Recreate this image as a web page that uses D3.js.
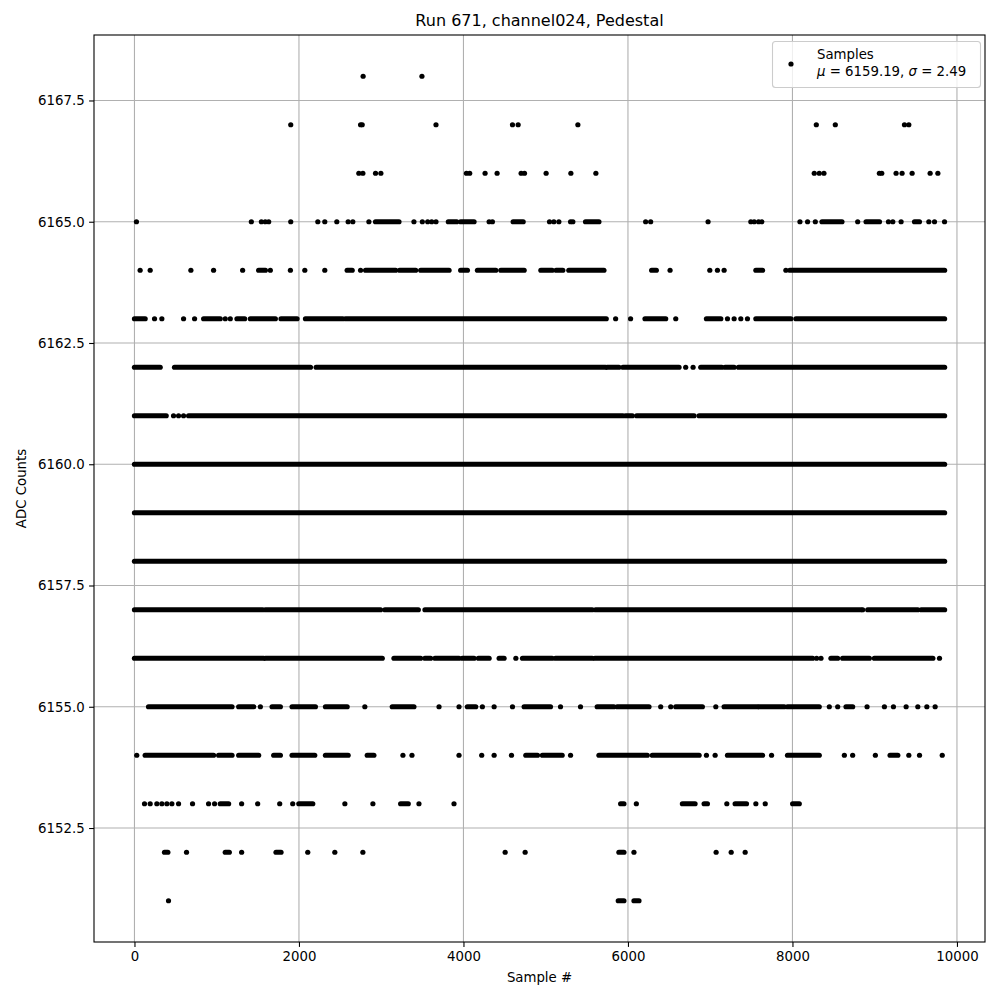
<!DOCTYPE html>
<html>
<head>
<meta charset="utf-8">
<script src="https://cdn.jsdelivr.net/npm/d3@7"></script>
<style>
    body { margin: 0; background: #fff; }
    text { font-family: 'DejaVu Sans', sans-serif; fill: #000; }
</style>
</head>
<body>
<svg id="chart" width="1000" height="1000"></svg>
<script>
// ADC levels seen in the picture, top to bottom
var levels = [6168, 6167, 6166, 6165, 6164, 6163, 6162, 6161, 6160, 6159, 6158, 6157, 6156, 6155, 6154, 6153, 6152, 6151];

// Sample numbers at each level: a number is a lone sample, [a, b] a run of samples packed together
var s6168 = [2780, 3495];
var s6167 = [1900, 2749, 2769, 3666, 4596, 4665, 5391, 8290, 8521, 9362, 9415];
var s6166 = [2728, 2777, 2931, 2996, 4036, 4076, 4263, 4409, 4701, 4742, 5005, 5306, 5610, 8265, 8326, 8383,
    9057, 9086, 9260, 9333, 9455, 9674, 9768];
var s6165 = [24, 1421, 1543, 1590, 1632, 1900, 2229, 2314, 2460, 2598, 2655, 2850, [2931, 3216], 3398, 3500, 3565,
    3614, 3666, [3816, 3918], [3966, 4129], 4312, 4352, [4604, 4726], 5046, 5099, 5160, 5302, 5330, [5484, 5647],
    6215, 6276, 6974, 7494, 7535, 7588, 7628, 8091, 8184, 8278, [8359, 8602], 8793, [8895, 9058], 9167, 9220, 9321,
    [9484, 9544], 9658, 9727, 9849];
var s6164 = [69, 191, 686, 962, 1315, [1510, 1592], 1652, 1896, 2071, 2314, [2586, 2647], 2749, [2810, 3175],
    [3224, 3419], [3480, 3825], [3966, 4048], [4170, 4393], [4454, 4738], [4941, 5078], [5127, 5208], [5281, 5708],
    [6288, 6345], 6512, 6995, 7088, 7169, [7555, 7636], 7920, [7969, 9850]];
var s6163 = [[0, 130], 244, 333, 597, 731, [841, 1043], 1104, 1165, [1246, 1340], [1409, 1713], [1782, 1977],
    [2079, 2533], [2566, 5736], 5850, 6032, [6207, 6459], 6581, [6954, 7129], 7210, 7291, 7372, 7453, [7555, 7981],
    [8042, 9850]];
var s6162 = [[0, 313], [487, 2140], [2209, 5728], [5748, 5890], [5939, 6621], 6702, 6792, [6885, 7141],
    [7181, 7291], [7344, 9850]];
var s6161 = [[0, 386], 475, 536, 597, [658, 5939], [5972, 6053], [6106, 6804], [6865, 9850]];
var s6160 = [[0, 9850]];
var s6159 = [[0, 9850]];
var s6158 = [[0, 9850]];
var s6157 = [[0, 1559], [1592, 2992], [3045, 3451], [3532, 5566], [5606, 8834], 8854, [8915, 9524], [9565, 9850]];
var s6156 = [[0, 1571], [1592, 3013], [3155, 3479], [3532, 3601], [3654, 3946], [3987, 4129], [4182, 4312],
    [4434, 4494], 4637, [4718, 5078], [5119, 5566], [5598, 8245], 8294, 8347, [8468, 8550], [8610, 8935],
    [8996, 9707], 9788];
var s6155 = [[171, 1186], [1267, 1450], 1531, [1673, 1774], [1916, 2200], [2322, 2586], 2801, [3134, 3398], 3703,
    3946, [4048, 4149], 4230, 4373, 4596, [4738, 5058], 5180, 5423, [5626, 5829], [5870, 6256], 6398, 6520,
    [6581, 6905], 7068, [7169, 7575], [7595, 7900], [7940, 8326], 8448, 8550, [8651, 8732], 8907, 9118, 9228,
    9382, 9524, 9634, 9735];
var s6154 = [28, [130, 962], [1023, 1186], [1267, 1510], [1693, 1774], [1916, 2192], [2322, 2598], [2830, 2911],
    3264, 3374, 3946, 4222, 4373, 4584, [4758, 4900], [4960, 5200], 5302, [5647, 6235], [6296, 6865], 6954, 7060,
    [7210, 7636], 7746, [7940, 8326], 8631, 8732, 9008, [9187, 9281], 9415, 9545, 9821];
var s6153 = [122, 191, 272, 333, 394, 455, 536, 706, 901, 974, [1043, 1145], 1303, 1498, 1766, 1924, [1998, 2168],
    2558, 2899, [3236, 3329], 3459, 3885, [5911, 5951], 6102, [6662, 6816], [6926, 6966], 7202, [7303, 7441],
    7555, 7669, [8002, 8083]];
var s6152 = [[365, 406], 633, [1104, 1153], 1303, [1721, 1782], 2107, 2436, 2777, 4507, 4750, [5890, 5951], 6073,
    7072, 7255, 7425];
var s6151 = [414, [5882, 5951], [6073, 6134]];

var samplesByLevel = [s6168, s6167, s6166, s6165, s6164, s6163, s6162, s6161, s6160, s6159, s6158, s6157,
    s6156, s6155, s6154, s6153, s6152, s6151];

var xTicks = [0, 2000, 4000, 6000, 8000, 10000];
var yTicks = [6152.5, 6155.0, 6157.5, 6160.0, 6162.5, 6165.0, 6167.5];

var titleText = 'Run 671, channel024, Pedestal';
var legendLabel = 'Samples';
var meanValue = 6159.19,
    sigmaValue = 2.49;

(function () {
    var svg = d3.select('#chart'),
        left = 94, right = 985, top = 35, bottom = 942,
        dotR = 2.6;

    var x = d3.scaleLinear().domain([-492, 10341]).range([left, right]),
        y = d3.scaleLinear().domain([6150.15, 6168.85]).range([bottom, top]);

    svg.append('rect')
        .attr('width', 1000).attr('height', 1000)
        .attr('fill', '#fff');

    // grid goes under the samples
    var grid = svg.append('g').attr('class', 'grid');
    grid.selectAll('line.gx')
        .data(xTicks)
        .enter().append('line')
        .attr('class', 'gx')
        .attr('x1', function (d) { return x(d); })
        .attr('x2', function (d) { return x(d); })
        .attr('y1', top).attr('y2', bottom)
        .attr('stroke', '#b0b0b0').attr('stroke-width', 1.1);
    grid.selectAll('line.gy')
        .data(yTicks)
        .enter().append('line')
        .attr('class', 'gy')
        .attr('y1', function (d) { return y(d); })
        .attr('y2', function (d) { return y(d); })
        .attr('x1', left).attr('x2', right)
        .attr('stroke', '#b0b0b0').attr('stroke-width', 1.1);

    /**
     * Flattens the per-level lists into marks
     * @return {Array} - {level, a, b} for every run or lone sample
     */
    var buildMarks = function () {
        var out = [];
        levels.forEach(function (lvl, i) {
            samplesByLevel[i].forEach(function (s) {
                if (Array.isArray(s)) {
                    out.push({level: lvl, a: s[0], b: s[1]});
                } else {
                    out.push({level: lvl, a: s, b: s});
                }
            });
        });
        return out;
    };

    var marks = buildMarks(),
        plot = svg.append('g').attr('class', 'samples');

    // runs of packed samples, drawn as capsules the width of one dot
    plot.selectAll('line')
        .data(marks.filter(function (d) { return d.b > d.a; }))
        .enter().append('line')
        .attr('x1', function (d) { return x(d.a); })
        .attr('x2', function (d) { return x(d.b); })
        .attr('y1', function (d) { return y(d.level); })
        .attr('y2', function (d) { return y(d.level); })
        .attr('stroke', '#000')
        .attr('stroke-width', dotR * 2)
        .attr('stroke-linecap', 'round');

    plot.selectAll('circle')
        .data(marks.filter(function (d) { return d.b === d.a; }))
        .enter().append('circle')
        .attr('cx', function (d) { return x(d.a); })
        .attr('cy', function (d) { return y(d.level); })
        .attr('r', dotR)
        .attr('fill', '#000');

    var xAxis = d3.axisBottom(x).tickValues(xTicks).tickSize(4.9).tickPadding(4.5).tickFormat(d3.format('d')),
        yAxis = d3.axisLeft(y).tickValues(yTicks).tickSize(4.9).tickPadding(4.5).tickFormat(d3.format('.1f'));

    var gx = svg.append('g')
        .attr('transform', 'translate(0,' + bottom + ')')
        .call(xAxis);
    var gy = svg.append('g')
        .attr('transform', 'translate(' + left + ',0)')
        .call(yAxis);
    [gx, gy].forEach(function (g) {
        g.select('.domain').remove();
        g.selectAll('line').attr('stroke', '#000').attr('stroke-width', 1.1);
        g.selectAll('text')
            .attr('font-size', '13.3px')
            .attr('font-family', "'DejaVu Sans', sans-serif")
            .attr('fill', '#000');
    });

    svg.append('rect')
        .attr('x', left).attr('y', top)
        .attr('width', right - left).attr('height', bottom - top)
        .attr('fill', 'none')
        .attr('stroke', '#000').attr('stroke-width', 1.1);

    svg.append('text')
        .attr('x', (left + right) / 2).attr('y', 26)
        .attr('text-anchor', 'middle')
        .attr('font-size', '16px')
        .text(titleText);

    svg.append('text')
        .attr('x', (left + right) / 2).attr('y', 982)
        .attr('text-anchor', 'middle')
        .attr('font-size', '13.3px')
        .text('Sample #');

    svg.append('text')
        .attr('transform', 'translate(26,' + ((top + bottom) / 2) + ') rotate(-90)')
        .attr('text-anchor', 'middle')
        .attr('font-size', '13.3px')
        .text('ADC Counts');

    // legend
    var lg = svg.append('g').attr('class', 'legend');
    lg.append('rect')
        .attr('x', 772.5).attr('y', 41.5)
        .attr('width', 208).attr('height', 46)
        .attr('rx', 3)
        .attr('fill', '#fff').attr('fill-opacity', 0.8)
        .attr('stroke', '#cccccc').attr('stroke-width', 1.1);
    lg.append('circle')
        .attr('cx', 791).attr('cy', 64)
        .attr('r', dotR)
        .attr('fill', '#000');
    lg.append('text')
        .attr('x', 817).attr('y', 59)
        .attr('font-size', '13.3px')
        .text(legendLabel);
    var stats = lg.append('text')
        .attr('x', 817).attr('y', 76)
        .attr('font-size', '13.3px');
    stats.append('tspan').attr('font-style', 'italic').text('\u03bc');
    stats.append('tspan').text(' = ' + meanValue.toFixed(2) + ', ');
    stats.append('tspan').attr('font-style', 'italic').text('\u03c3');
    stats.append('tspan').text(' = ' + sigmaValue.toFixed(2));
})();
</script>
</body>
</html>
